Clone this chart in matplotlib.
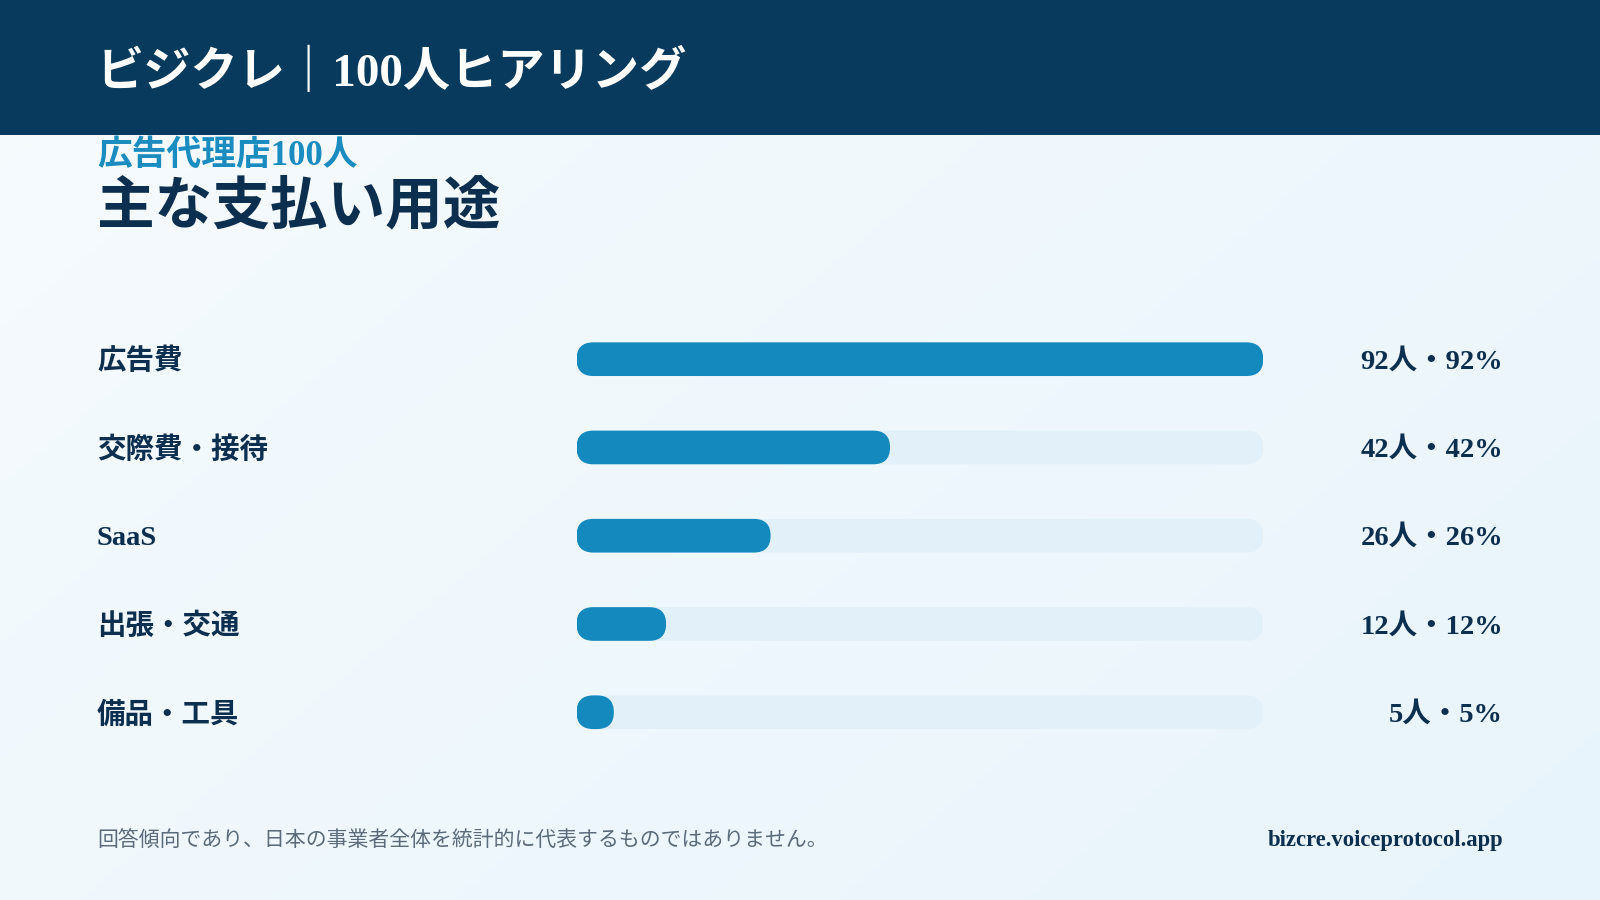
import numpy as np
import matplotlib
matplotlib.use("Agg")
import matplotlib.pyplot as plt
from matplotlib.patches import FancyBboxPatch, Rectangle
from matplotlib.colors import LinearSegmentedColormap
import matplotlib.transforms as mtransforms

plt.rcParams['font.family'] = ['Liberation Serif', 'Noto Sans CJK JP']

# data
categories = ["広告費", "交際費・接待", "SaaS", "出張・交通", "備品・工具"]
counts = [92, 42, 26, 12, 5]
total = 100
header_title = "ビジクレ｜100人ヒアリング"
subtitle = "広告代理店100人"
title = "主な支払い用途"
note = "回答傾向であり、日本の事業者全体を統計的に代表するものではありません。"
url = "bizcre.voiceprotocol.app"

NAVY = "#073a5c"
BLUE = "#1389be"
TRACK = "#e2f1f9"
TEXT = "#0d2f4f"

W, H = 1568, 882  # layout reference grid


def fx(x):
    return x / W


def fy(y):
    return 1 - y / H


fig = plt.figure(figsize=(16, 9), dpi=100)

# background gradient
bg = fig.add_axes([0, 0, 1, 1], zorder=0)
bg.axis("off")
gx, gy = np.meshgrid(np.linspace(0, 1, 200), np.linspace(0, 1, 200))
grad = (gx * 0.6 + gy * 0.4)
cmap = LinearSegmentedColormap.from_list("bg", ["#f6fbfe", "#e8f4fb"])
bg.imshow(grad, cmap=cmap, aspect="auto", extent=[0, 1, 0, 1], origin="upper")
bg.set_xlim(0, 1)
bg.set_ylim(0, 1)

# header band
bg.add_patch(Rectangle((0, fy(132)), 1, 1 - fy(132), color=NAVY, lw=0, zorder=2))

fig.text(fx(95), fy(71), header_title, color="white", fontsize=34, fontweight="bold",
         va="center", ha="left", zorder=5)
fig.text(fx(95), fy(153), subtitle, color="#1a8cc0", fontsize=25, fontweight="bold",
         va="center", ha="left", zorder=5)
fig.text(fx(95), fy(204), title, color=TEXT, fontsize=41.5, fontweight="bold",
         va="center", ha="left", zorder=5)

# bars
x0, x1 = 565, 1238
row_top, row_bot = 352, 698
n = len(categories)
step = (row_bot - row_top) / (n - 1)
ax_top = row_top - step / 2
ax_bot = row_bot + step / 2
ax = fig.add_axes([fx(x0), fy(ax_bot), fx(x1) - fx(x0), fy(ax_top) - fy(ax_bot)], zorder=3)
ax.axis("off")
vmax = max(counts)
ax.set_xlim(0, vmax)
ax.set_ylim(n - 0.5, -0.5)

fig_w_px = fig.get_figwidth() * fig.dpi
fig_h_px = fig.get_figheight() * fig.dpi
px_per_x = (fx(x1) - fx(x0)) * fig_w_px / vmax
px_per_y = (fy(ax_top) - fy(ax_bot)) * fig_h_px / n
aspect = px_per_x / px_per_y
bar_px = 33 * fig_w_px / W
bar_h = bar_px / px_per_y
rad = (bar_px / 2) / px_per_x

# small downward nudge for text so it sits on the bar centre line
nudge = 2.5 / px_per_y * (fig_w_px / W)

for i, (cat, c) in enumerate(zip(categories, counts)):
    ax.add_patch(FancyBboxPatch((0, i - bar_h / 2), vmax, bar_h,
                                boxstyle=f"round,pad=0,rounding_size={rad}",
                                mutation_aspect=aspect, fc=TRACK, ec="none"))
    ax.add_patch(FancyBboxPatch((0, i - bar_h / 2), c, bar_h,
                                boxstyle=f"round,pad=0,rounding_size={min(rad, c / 2)}",
                                mutation_aspect=aspect, fc=BLUE, ec="none"))
    trans = mtransforms.blended_transform_factory(fig.transFigure, ax.transData)
    ax.text(fx(95), i + nudge, cat, transform=trans, color=TEXT, fontsize=20.5,
            fontweight="bold", va="center", ha="left")
    pct = round(c / total * 100)
    ax.text(fx(1473), i + nudge, f"{c}人・{pct}%", transform=trans, color=TEXT,
            fontsize=20.5, fontweight="bold", va="center", ha="right")

# footer
fig.text(fx(95), fy(824), note, color="#5b6b7b", fontsize=15, va="center", ha="left", zorder=5)
fig.text(fx(1473), fy(824), url, color=TEXT, fontsize=16.3, fontweight="bold",
         va="center", ha="right", zorder=5)

fig.savefig("out.png", dpi=100)
